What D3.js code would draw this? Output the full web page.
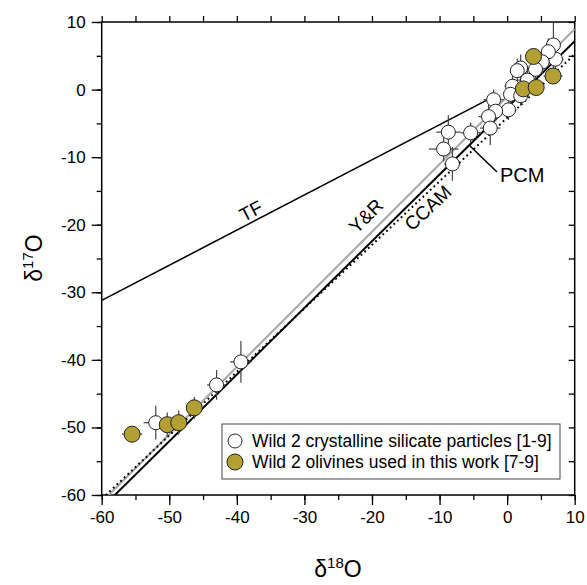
<!DOCTYPE html>
<html><head><meta charset="utf-8">
<script src="https://cdn.jsdelivr.net/npm/d3@7"></script>
<style>body{margin:0;background:#fff}svg{display:block}text{font-family:"Liberation Sans",Arial,sans-serif}</style>
</head><body>
<script>
// Data
const xTicks = [-60,-50,-40,-30,-20,-10,0,10];
const yTicks = [-60,-50,-40,-30,-20,-10,0,10];
// Wild 2 crystalline silicate particles: d18O, d17O and errors
const whiteX = [6.85,7.15,6.1,5.2,4.2,2.0,1.5,3.0,0.8,0.5,2.0,0.2,-2.0,-1.7,-2.75,-2.5,-5.4,-8.7,-9.4,-8.1,-39.4,-43.0,-52.0];
const whiteY = [6.6,4.5,5.6,4.1,3.0,3.2,2.8,1.4,0.5,-0.7,-0.9,-3.0,-1.5,-3.2,-4.0,-5.7,-6.4,-6.3,-8.8,-11.0,-40.3,-43.7,-49.3];
const whiteEX = [0.8,1.2,1.0,1.0,1.2,1.2,1.0,1.5,1.2,1.0,1.2,1.2,1.5,1.2,1.5,1.5,1.5,1.8,2.2,1.2,1.6,1.4,1.8];
const whiteEY = [3.5,1.5,2.0,1.8,1.5,2.0,1.8,1.5,1.8,1.5,1.5,1.5,1.5,1.5,1.8,2.5,1.5,2.5,1.8,2.5,3.1,2.2,2.5];
// Wild 2 olivines used in this work
const oliveX = [-55.5,-50.3,-48.6,-46.3,3.9,6.8,2.4,4.3];
const oliveY = [-51.0,-49.6,-49.3,-47.1,4.9,2.0,0.1,0.3];
const oliveEX = [1.5,0.8,0.8,1.2,0.8,1.4,0.8,0.8];
const oliveEY = [0.8,1.8,1.8,1.6,1.0,0.8,0.8,1.0];
// Reference lines: slope, intercept, x-range
const lineNames = ["TF","Y&R","CCAM","PCM"];
const lineSlopes = [0.52,1.0,0.94,0.987];
const lineIntercepts = [0,-1.04,-4.18,-2.70];
const lineXStart = [-60,-58.96,-59.4,-58.05];
const lineXEnd = [-2,10,10,10];
const legendLabels = ["Wild 2 crystalline silicate particles [1-9]","Wild 2 olivines used in this work [7-9]"];

const W=587,H=585;
const svg=d3.select("body").append("svg").attr("width",W).attr("height",H);
const L=101.7,R=574.7,T=22,B=495;
const x=d3.scaleLinear().domain([-60,10]).range([L,R]);
const y=d3.scaleLinear().domain([-60,10]).range([B,T]);
const olive="#b4a032";
const fmt=d=>String(d);

svg.append("defs").append("clipPath").attr("id","clip").append("rect")
  .attr("x",L).attr("y",T).attr("width",R-L).attr("height",B-T);

// frame
svg.append("rect").attr("x",L).attr("y",T).attr("width",R-L).attr("height",B-T)
  .attr("fill","none").attr("stroke","#000").attr("stroke-width",1.5);

// axes
const minor=d3.range(-60,11,5);
svg.append("g").attr("transform",`translate(0,${B})`)
  .call(d3.axisBottom(x).tickValues(xTicks).tickSize(10).tickPadding(6).tickFormat(fmt));
svg.append("g").attr("transform",`translate(0,${B})`).call(d3.axisBottom(x).tickValues(minor).tickSize(5).tickFormat(""));
svg.append("g").attr("transform",`translate(${L},0)`)
  .call(d3.axisLeft(y).tickValues(yTicks).tickSize(10).tickPadding(6).tickFormat(fmt));
svg.append("g").attr("transform",`translate(${L},0)`).call(d3.axisLeft(y).tickValues(minor).tickSize(5).tickFormat(""));
svg.append("g").attr("transform",`translate(0,${T})`).call(d3.axisTop(x).tickValues(minor).tickSize(6).tickFormat(""));
svg.append("g").attr("transform",`translate(${R},0)`).call(d3.axisRight(y).tickValues(minor).tickSize(-6).tickFormat(""));
svg.selectAll(".domain").remove();
svg.selectAll(".tick line").attr("stroke","#000").attr("stroke-width",1.3);
svg.selectAll(".tick text").attr("font-size",17).attr("fill","#000").attr("font-family","Liberation Sans, Arial, sans-serif");

// reference lines
const lg=svg.append("g").attr("clip-path","url(#clip)");
const styles=[
  {stroke:"#000",w:1.6,dash:null},
  {stroke:"#aaa",w:2.2,dash:null},
  {stroke:"#000",w:2,dash:"1.8,3.2"},
  {stroke:"#000",w:2,dash:null}];
lineNames.forEach((n,i)=>{
  const f=v=>lineSlopes[i]*v+lineIntercepts[i];
  lg.append("line").attr("x1",x(lineXStart[i])).attr("y1",y(f(lineXStart[i])))
    .attr("x2",x(lineXEnd[i])).attr("y2",y(f(lineXEnd[i])))
    .attr("stroke",styles[i].stroke).attr("stroke-width",styles[i].w)
    .attr("stroke-dasharray",styles[i].dash);
});

// line labels
function lab(t,cx,cy,rot){
  svg.append("text").attr("transform",`translate(${cx},${cy}) rotate(${rot})`)
    .attr("text-anchor","middle").attr("dominant-baseline","central").attr("font-size",19).text(t);
}
lab("TF",251,211,-27.5);
lab("Y&R",366,216,-45);
lab("CCAM",428,208,-43);
svg.append("line").attr("x1",470).attr("y1",146).attr("x2",497).attr("y2",172).attr("stroke","#000").attr("stroke-width",1.5);
svg.append("text").attr("x",500).attr("y",182).attr("font-size",20).text("PCM");

// points
const pg=svg.append("g");
function errs(X,Y,EX,EY){
  X.forEach((v,i)=>{
    pg.append("line").attr("x1",x(v-EX[i])).attr("x2",x(v+EX[i])).attr("y1",y(Y[i])).attr("y2",y(Y[i]))
      .attr("stroke","#444").attr("stroke-width",1.2);
    pg.append("line").attr("x1",x(v)).attr("x2",x(v)).attr("y1",y(Y[i]-EY[i])).attr("y2",y(Y[i]+EY[i]))
      .attr("stroke","#444").attr("stroke-width",1.2);
  });
}
errs(whiteX,whiteY,whiteEX,whiteEY);
errs(oliveX,oliveY,oliveEX,oliveEY);
whiteX.forEach((v,i)=>pg.append("circle").attr("cx",x(v)).attr("cy",y(whiteY[i])).attr("r",7)
  .attr("fill","#fff").attr("stroke","#222").attr("stroke-width",1));
oliveX.forEach((v,i)=>pg.append("circle").attr("cx",x(v)).attr("cy",y(oliveY[i])).attr("r",8)
  .attr("fill",olive).attr("stroke","#222").attr("stroke-width",1));

// legend
svg.append("rect").attr("x",222).attr("y",424).attr("width",338).attr("height",55)
  .attr("fill","#fff").attr("stroke","#444").attr("stroke-width",1);
[["#fff",441],[olive,462]].forEach((d,i)=>{
  svg.append("circle").attr("cx",235).attr("cy",d[1]).attr("r",i?8:7).attr("fill",d[0]).attr("stroke","#222");
  svg.append("text").attr("x",252).attr("y",d[1]).attr("dominant-baseline","central").attr("font-size",17.5).text(legendLabels[i]);
});

// axis titles
const xt=svg.append("text").attr("x",338).attr("y",577).attr("text-anchor","middle").attr("font-size",23);
xt.append("tspan").text("δ");
xt.append("tspan").attr("font-size",15).attr("dy",-9).text("18");
xt.append("tspan").attr("dy",9).text("O");
const yt=svg.append("text").attr("transform","translate(42,258) rotate(-90)").attr("text-anchor","middle").attr("font-size",23);
yt.append("tspan").text("δ");
yt.append("tspan").attr("font-size",15).attr("dy",-9).text("17");
yt.append("tspan").attr("dy",9).text("O");
</script>
</body></html>
